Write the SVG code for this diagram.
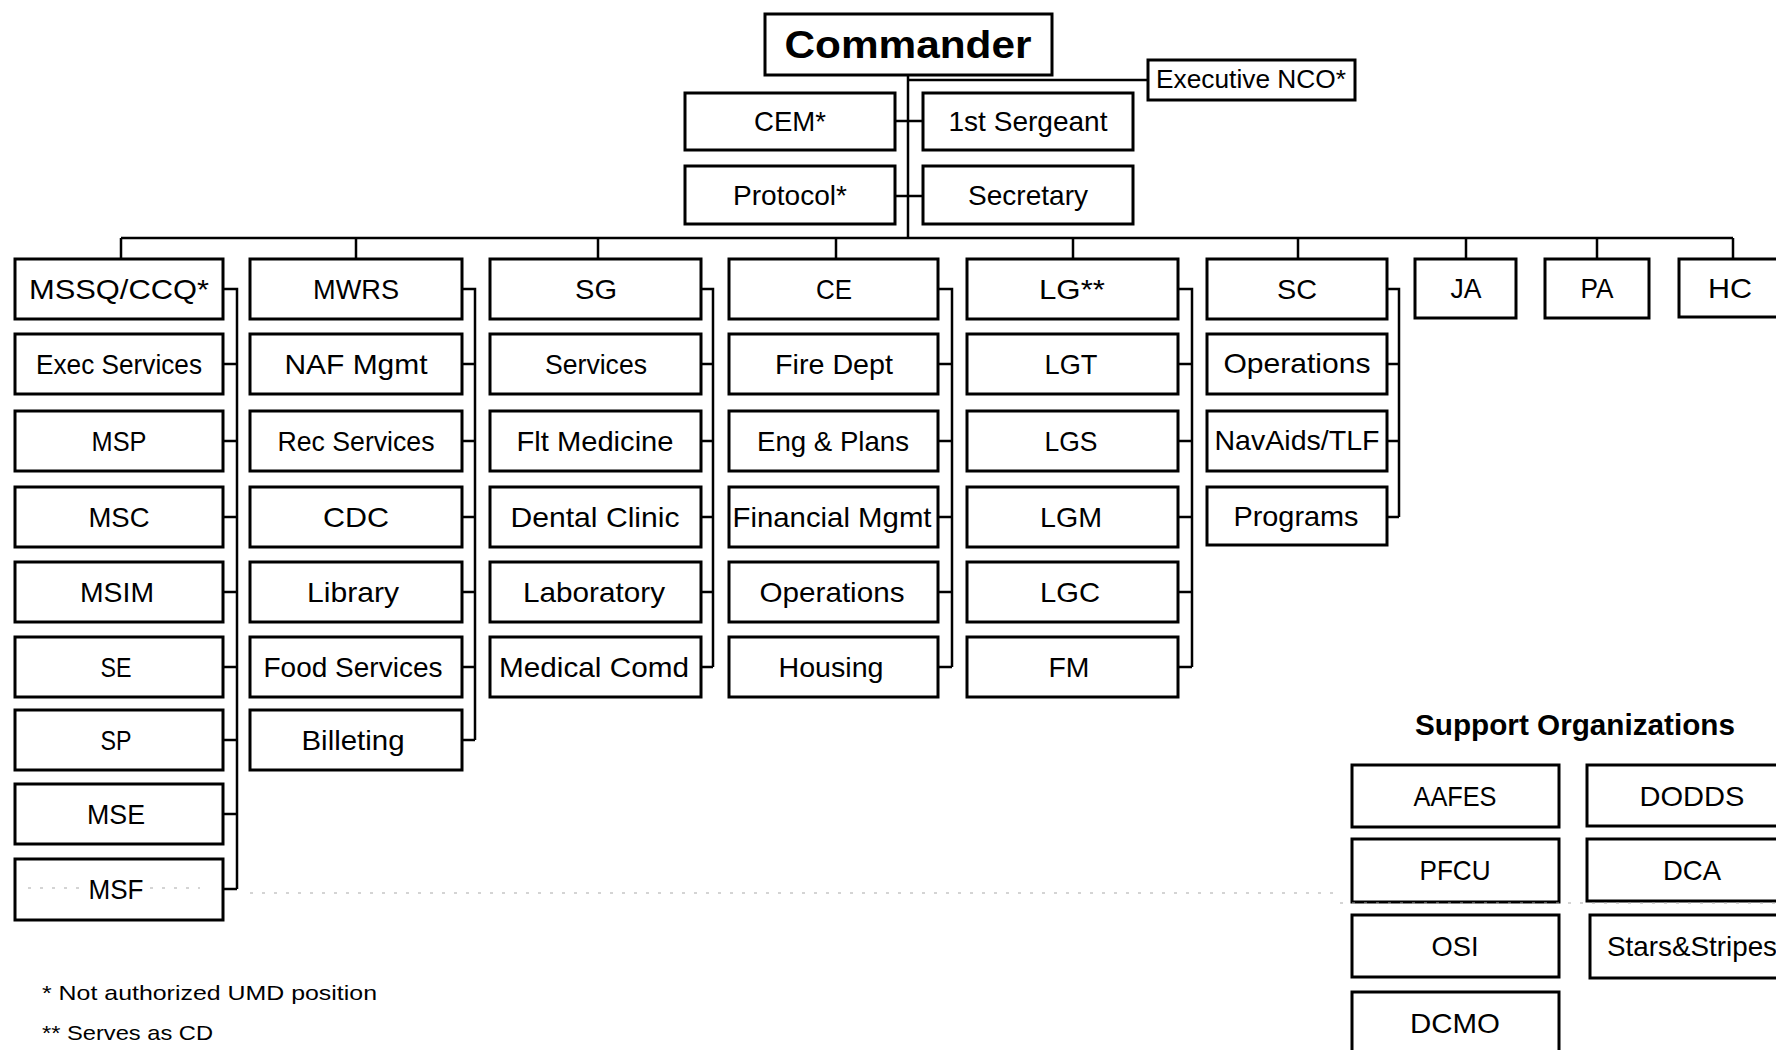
<svg xmlns="http://www.w3.org/2000/svg" width="1776" height="1050" viewBox="0 0 1776 1050">
<style>
.bg{fill:#fff}
.box{fill:#fff;stroke:#000;stroke-width:3}
.lbl{font-family:"Liberation Sans",Arial,sans-serif;font-size:28px;text-anchor:middle;fill:#000}
.sm{font-size:25px}
.bold{font-weight:bold}
.big{font-size:38px}
.note{font-family:"Liberation Sans",Arial,sans-serif;font-size:21px;fill:#000}
.conn{stroke:#000;stroke-width:2.5;fill:none}
.scan{stroke:#aaa;stroke-width:1.2;stroke-dasharray:3 9;fill:none}
</style>
<rect class="bg" x="0" y="0" width="1776" height="1050"/>
<g id="connectors">
<path class="conn" d="M908 75 V238 M908 80 H1148 M895 121 H923 M895 196 H923"/>
<path class="conn" d="M121 238 H1733 M121 238 V259 M356 238 V259 M598 238 V259 M836 238 V259 M1073 238 V259 M1298 238 V259 M1466 238 V259 M1597 238 V259 M1733 238 V259"/>
<path class="conn" d="M223 289 H237 V889 M223 364 H237 M223 441 H237 M223 517 H237 M223 592 H237 M223 667 H237 M223 740 H237 M223 814 H237 M223 889 H237"/>
<path class="conn" d="M462 289 H475 V740 M462 364 H475 M462 441 H475 M462 517 H475 M462 592 H475 M462 667 H475 M462 740 H475"/>
<path class="conn" d="M701 289 H713 V667 M701 364 H713 M701 441 H713 M701 517 H713 M701 592 H713 M701 667 H713"/>
<path class="conn" d="M938 289 H952 V667 M938 364 H952 M938 441 H952 M938 517 H952 M938 592 H952 M938 667 H952"/>
<path class="conn" d="M1178 289 H1192 V667 M1178 364 H1192 M1178 441 H1192 M1178 517 H1192 M1178 592 H1192 M1178 667 H1192"/>
<path class="conn" d="M1387 289 H1399 V517 M1387 364 H1399 M1387 441 H1399 M1387 517 H1399"/>
</g>
<g id="n-commander"><rect class="box" x="765" y="14" width="287" height="61"/><text class="lbl bold big" x="908" y="58" textLength="247" lengthAdjust="spacingAndGlyphs">Commander</text></g>
<g id="n-execnco"><rect class="box" x="1148" y="60" width="207" height="40"/><text class="lbl sm" x="1251" y="88" textLength="190" lengthAdjust="spacingAndGlyphs">Executive NCO*</text></g>
<g id="n-cem"><rect class="box" x="685" y="93" width="210" height="57"/><text class="lbl" x="790" y="131" textLength="72" lengthAdjust="spacingAndGlyphs">CEM*</text></g>
<g id="n-1stsgt"><rect class="box" x="923" y="93" width="210" height="57"/><text class="lbl" x="1028" y="131" textLength="159" lengthAdjust="spacingAndGlyphs">1st Sergeant</text></g>
<g id="n-protocol"><rect class="box" x="685" y="166" width="210" height="58"/><text class="lbl" x="790" y="205" textLength="114" lengthAdjust="spacingAndGlyphs">Protocol*</text></g>
<g id="n-secretary"><rect class="box" x="923" y="166" width="210" height="58"/><text class="lbl" x="1028" y="205" textLength="120" lengthAdjust="spacingAndGlyphs">Secretary</text></g>

<g id="n-mssq"><rect class="box" x="15" y="259" width="208" height="60"/><text class="lbl" x="119" y="299" textLength="180" lengthAdjust="spacingAndGlyphs">MSSQ/CCQ*</text></g>
<g id="n-execsvc"><rect class="box" x="15" y="334" width="208" height="60"/><text class="lbl" x="119" y="374" textLength="166" lengthAdjust="spacingAndGlyphs">Exec Services</text></g>
<g id="n-msp"><rect class="box" x="15" y="411" width="208" height="60"/><text class="lbl" x="119" y="451" textLength="55" lengthAdjust="spacingAndGlyphs">MSP</text></g>
<g id="n-msc"><rect class="box" x="15" y="487" width="208" height="60"/><text class="lbl" x="119" y="527" textLength="61" lengthAdjust="spacingAndGlyphs">MSC</text></g>
<g id="n-msim"><rect class="box" x="15" y="562" width="208" height="60"/><text class="lbl" x="117" y="602" textLength="74" lengthAdjust="spacingAndGlyphs">MSIM</text></g>
<g id="n-se"><rect class="box" x="15" y="637" width="208" height="60"/><text class="lbl" x="116" y="677" textLength="31" lengthAdjust="spacingAndGlyphs">SE</text></g>
<g id="n-sp"><rect class="box" x="15" y="710" width="208" height="60"/><text class="lbl" x="116" y="750" textLength="31" lengthAdjust="spacingAndGlyphs">SP</text></g>
<g id="n-mse"><rect class="box" x="15" y="784" width="208" height="60"/><text class="lbl" x="116" y="824" textLength="58" lengthAdjust="spacingAndGlyphs">MSE</text></g>
<g id="n-msf"><rect class="box" x="15" y="859" width="208" height="61"/><text class="lbl" x="116" y="899" textLength="55" lengthAdjust="spacingAndGlyphs">MSF</text></g>

<g id="n-mwrs"><rect class="box" x="250" y="259" width="212" height="60"/><text class="lbl" x="356" y="299" textLength="86" lengthAdjust="spacingAndGlyphs">MWRS</text></g>
<g id="n-nafmgmt"><rect class="box" x="250" y="334" width="212" height="60"/><text class="lbl" x="356" y="374" textLength="143" lengthAdjust="spacingAndGlyphs">NAF Mgmt</text></g>
<g id="n-recsvc"><rect class="box" x="250" y="411" width="212" height="60"/><text class="lbl" x="356" y="451" textLength="157" lengthAdjust="spacingAndGlyphs">Rec Services</text></g>
<g id="n-cdc"><rect class="box" x="250" y="487" width="212" height="60"/><text class="lbl" x="356" y="527" textLength="66" lengthAdjust="spacingAndGlyphs">CDC</text></g>
<g id="n-library"><rect class="box" x="250" y="562" width="212" height="60"/><text class="lbl" x="353" y="602" textLength="92" lengthAdjust="spacingAndGlyphs">Library</text></g>
<g id="n-foodsvc"><rect class="box" x="250" y="637" width="212" height="60"/><text class="lbl" x="353" y="677" textLength="179" lengthAdjust="spacingAndGlyphs">Food Services</text></g>
<g id="n-billeting"><rect class="box" x="250" y="710" width="212" height="60"/><text class="lbl" x="353" y="750" textLength="103" lengthAdjust="spacingAndGlyphs">Billeting</text></g>

<g id="n-sg"><rect class="box" x="490" y="259" width="211" height="60"/><text class="lbl" x="596" y="299" textLength="42" lengthAdjust="spacingAndGlyphs">SG</text></g>
<g id="n-services"><rect class="box" x="490" y="334" width="211" height="60"/><text class="lbl" x="596" y="374" textLength="102" lengthAdjust="spacingAndGlyphs">Services</text></g>
<g id="n-fltmed"><rect class="box" x="490" y="411" width="211" height="60"/><text class="lbl" x="595" y="451" textLength="157" lengthAdjust="spacingAndGlyphs">Flt Medicine</text></g>
<g id="n-dental"><rect class="box" x="490" y="487" width="211" height="60"/><text class="lbl" x="595" y="527" textLength="169" lengthAdjust="spacingAndGlyphs">Dental Clinic</text></g>
<g id="n-lab"><rect class="box" x="490" y="562" width="211" height="60"/><text class="lbl" x="594" y="602" textLength="142" lengthAdjust="spacingAndGlyphs">Laboratory</text></g>
<g id="n-medcomd"><rect class="box" x="490" y="637" width="211" height="60"/><text class="lbl" x="594" y="677" textLength="190" lengthAdjust="spacingAndGlyphs">Medical Comd</text></g>

<g id="n-ce"><rect class="box" x="729" y="259" width="209" height="60"/><text class="lbl" x="834" y="299" textLength="36" lengthAdjust="spacingAndGlyphs">CE</text></g>
<g id="n-firedept"><rect class="box" x="729" y="334" width="209" height="60"/><text class="lbl" x="834" y="374" textLength="118" lengthAdjust="spacingAndGlyphs">Fire Dept</text></g>
<g id="n-engplans"><rect class="box" x="729" y="411" width="209" height="60"/><text class="lbl" x="833" y="451" textLength="152" lengthAdjust="spacingAndGlyphs">Eng &amp; Plans</text></g>
<g id="n-finmgmt"><rect class="box" x="729" y="487" width="209" height="60"/><text class="lbl" x="832" y="527" textLength="199" lengthAdjust="spacingAndGlyphs">Financial Mgmt</text></g>
<g id="n-ceops"><rect class="box" x="729" y="562" width="209" height="60"/><text class="lbl" x="832" y="602" textLength="145" lengthAdjust="spacingAndGlyphs">Operations</text></g>
<g id="n-housing"><rect class="box" x="729" y="637" width="209" height="60"/><text class="lbl" x="831" y="677" textLength="105" lengthAdjust="spacingAndGlyphs">Housing</text></g>

<g id="n-lg"><rect class="box" x="967" y="259" width="211" height="60"/><text class="lbl" x="1072" y="299" textLength="66" lengthAdjust="spacingAndGlyphs">LG**</text></g>
<g id="n-lgt"><rect class="box" x="967" y="334" width="211" height="60"/><text class="lbl" x="1071" y="374" textLength="53" lengthAdjust="spacingAndGlyphs">LGT</text></g>
<g id="n-lgs"><rect class="box" x="967" y="411" width="211" height="60"/><text class="lbl" x="1071" y="451" textLength="53" lengthAdjust="spacingAndGlyphs">LGS</text></g>
<g id="n-lgm"><rect class="box" x="967" y="487" width="211" height="60"/><text class="lbl" x="1071" y="527" textLength="62" lengthAdjust="spacingAndGlyphs">LGM</text></g>
<g id="n-lgc"><rect class="box" x="967" y="562" width="211" height="60"/><text class="lbl" x="1070" y="602" textLength="60" lengthAdjust="spacingAndGlyphs">LGC</text></g>
<g id="n-fm"><rect class="box" x="967" y="637" width="211" height="60"/><text class="lbl" x="1069" y="677" textLength="41" lengthAdjust="spacingAndGlyphs">FM</text></g>

<g id="n-sc"><rect class="box" x="1207" y="259" width="180" height="60"/><text class="lbl" x="1297" y="299" textLength="40" lengthAdjust="spacingAndGlyphs">SC</text></g>
<g id="n-scops"><rect class="box" x="1207" y="334" width="180" height="60"/><text class="lbl" x="1297" y="373" textLength="147" lengthAdjust="spacingAndGlyphs">Operations</text></g>
<g id="n-navaids"><rect class="box" x="1207" y="411" width="180" height="60"/><text class="lbl" x="1297" y="450" textLength="165" lengthAdjust="spacingAndGlyphs">NavAids/TLF</text></g>
<g id="n-programs"><rect class="box" x="1207" y="487" width="180" height="58"/><text class="lbl" x="1296" y="526" textLength="125" lengthAdjust="spacingAndGlyphs">Programs</text></g>

<g id="n-ja"><rect class="box" x="1415" y="259" width="101" height="59"/><text class="lbl" x="1466" y="298" textLength="31" lengthAdjust="spacingAndGlyphs">JA</text></g>
<g id="n-pa"><rect class="box" x="1545" y="259" width="104" height="59"/><text class="lbl" x="1597" y="298" textLength="33" lengthAdjust="spacingAndGlyphs">PA</text></g>
<g id="n-hc"><rect class="box" x="1679" y="259" width="110" height="58"/><text class="lbl" x="1730" y="298" textLength="44" lengthAdjust="spacingAndGlyphs">HC</text></g>

<text class="lbl bold" x="1575" y="735" style="font-size:29px" textLength="320" lengthAdjust="spacingAndGlyphs">Support Organizations</text>
<g id="n-aafes"><rect class="box" x="1352" y="765" width="207" height="62"/><text class="lbl" x="1455" y="806" textLength="83" lengthAdjust="spacingAndGlyphs">AAFES</text></g>
<g id="n-dodds"><rect class="box" x="1587" y="765" width="210" height="61"/><text class="lbl" x="1692" y="806" textLength="105" lengthAdjust="spacingAndGlyphs">DODDS</text></g>
<g id="n-pfcu"><rect class="box" x="1352" y="839" width="207" height="63"/><text class="lbl" x="1455" y="880" textLength="71" lengthAdjust="spacingAndGlyphs">PFCU</text></g>
<g id="n-dca"><rect class="box" x="1587" y="839" width="210" height="62"/><text class="lbl" x="1692" y="880" textLength="58" lengthAdjust="spacingAndGlyphs">DCA</text></g>
<g id="n-osi"><rect class="box" x="1352" y="915" width="207" height="62"/><text class="lbl" x="1455" y="956" textLength="47" lengthAdjust="spacingAndGlyphs">OSI</text></g>
<g id="n-stars"><rect class="box" x="1590" y="915" width="210" height="63"/><text class="lbl" x="1692" y="956" textLength="170" lengthAdjust="spacingAndGlyphs">Stars&amp;Stripes</text></g>
<g id="n-dcmo"><rect class="box" x="1352" y="992" width="207" height="62"/><text class="lbl" x="1455" y="1033" textLength="90" lengthAdjust="spacingAndGlyphs">DCMO</text></g>

<path class="scan" d="M28 888 H80 M150 888 H200 M250 893 H1340 M1340 903 H1776"/>

<text class="note" x="42" y="1000" textLength="335" lengthAdjust="spacingAndGlyphs">* Not authorized UMD position</text>
<text class="note" x="42" y="1040" textLength="171" lengthAdjust="spacingAndGlyphs">** Serves as CD</text>
</svg>
